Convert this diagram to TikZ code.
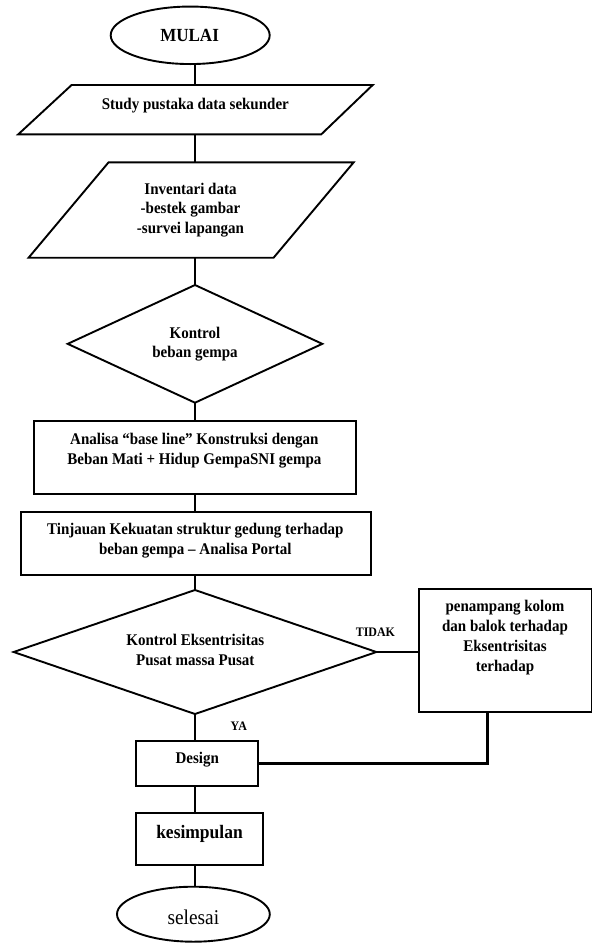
\documentclass[tikz,border=0pt]{standalone}
\usepackage{fontspec}
\setmainfont{Liberation Serif}[FakeStretch=0.92]
\usetikzlibrary{shapes.geometric}
\begin{document}
\begin{tikzpicture}[x=1pt,y=-1pt,
  outline/.style={draw=black,line width=1.9pt,line join=miter},
  shp/.style={outline,inner sep=0pt,outer sep=0pt},
  box/.style={shp,rectangle},
  conn/.style={draw=black,line width=2.8pt},
  thinconn/.style={draw=black,line width=1.4pt},
  txt/.style={font=\fontsize{16.3}{19.6}\selectfont\bfseries,align=center,inner sep=0pt},
  lbl/.style={font=\fontsize{13}{15}\selectfont\bfseries,inner sep=0pt}]
\useasboundingbox (0,0) rectangle (593,943);

% shapes
\node[shp,ellipse,minimum width=159pt,minimum height=57.5pt] (mulai) at (190.2,35.3) {};
\draw[outline] (18.3,134.3) -- (71.6,85) -- (372.7,85) -- (321.3,134.3) -- cycle;
\coordinate (p1t) at (195,85);
\coordinate (p1b) at (195,134.3);
\draw[outline] (28.6,257.7) -- (108.6,162.3) -- (353.7,162.3) -- (273.6,257.7) -- cycle;
\coordinate (p2t) at (195,162.3);
\coordinate (p2b) at (195,257.7);
\node[shp,diamond,minimum width=254.6pt,minimum height=117.7pt] (d1) at (195,343.85) {};
\node[box,minimum width=322.8pt,minimum height=73.6pt] (analisa) at (195,457.5) {};
\node[box,minimum width=349.8pt,minimum height=63.3pt] (tinjauan) at (195.9,543.7) {};
\node[shp,diamond,minimum width=362.8pt,minimum height=124pt] (d2) at (195,652) {};
\node[box,minimum width=172.3pt,minimum height=122.7pt] (rb) at (505.35,650.35) {};
\node[box,minimum width=122.7pt,minimum height=45.3pt] (design) at (197,763.35) {};
\node[box,minimum width=127.3pt,minimum height=51.7pt] (kesimpulan) at (199.3,839.2) {};
\node[shp,ellipse,minimum width=152.8pt,minimum height=55pt] (selesai) at (193.4,914.2) {};

% connectors
\draw[conn] (mulai.south -| p1t) -- (p1t);
\draw[conn] (p1b) -- (p2t);
\draw[conn] (p2b) -- (d1.north);
\draw[conn] (d1.south) -- (d1.south |- analisa.north);
\draw[conn] (d1.south |- analisa.south) -- (d1.south |- tinjauan.north);
\draw[conn] (d2.north |- tinjauan.south) -- (d2.north);
\draw[conn] (d2.south) -- (d2.south |- design.north);
\draw[conn] (d2.south |- design.south) -- (d2.south |- kesimpulan.north);
\draw[conn] (d2.south |- kesimpulan.south) -- (d2.south |- selesai.north);
\draw[thinconn] (d2.east) -- (d2.east -| rb.west);
\path (rb.south) ++(-17.55,0) coordinate (rbx);
\draw[conn] (rbx) |- (design.east);

% texts
\node[font=\fontsize{18.5}{21}\selectfont\bfseries,inner sep=0pt] (tmulai) at (189.6,35.5) {MULAI};
\node[txt] (t1) at (195.3,105.7) {Study pustaka data sekunder};
\node[txt] (t2) at (190.5,210) {Inventari data\\-bestek gambar\\-survei lapangan};
\node[txt] (t3) at (195,344.2) {Kontrol\\beban gempa};
\node[txt] (t4) at (194.4,450.5) {Analisa “base line” Konstruksi dengan\\Beban Mati + Hidup GempaSNI gempa};
\node[txt] (t5) at (195.3,540.5) {Tinjauan Kekuatan struktur gedung terhadap\\beban gempa – Analisa Portal};
\node[txt] (t6) at (195.3,650.2) {Kontrol Eksentrisitas\\Pusat massa Pusat};
\node[txt,font=\fontsize{16.3}{19.9}\selectfont\bfseries] (t7) at (505,637.5) {penampang kolom\\dan balok terhadap\\Eksentrisitas\\terhadap};
\node[txt] (t8) at (197.2,759.3) {Design};
\node[font=\fontsize{19}{22}\selectfont\bfseries,inner sep=0pt] (t9) at (199.5,834.3) {kesimpulan};
\node[font=\fontsize{21}{24}\selectfont,inner sep=0pt] (t10) at (193.4,917) {selesai};
\node[lbl] (tidak) at (375.4,632) {TIDAK};
\node[lbl] (ya) at (238.8,726) {YA};
\end{tikzpicture}
\end{document}
